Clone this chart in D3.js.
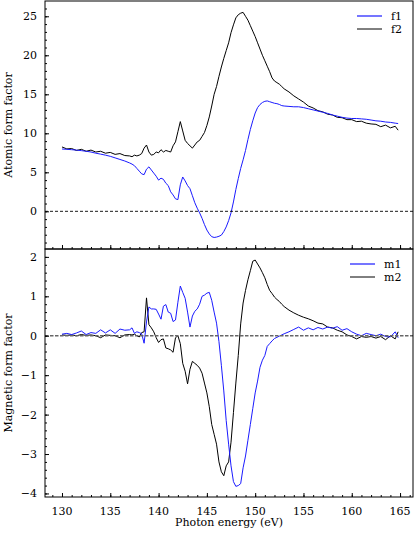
<!DOCTYPE html>
<html>
<head>
<meta charset="utf-8">
<script src="https://cdn.jsdelivr.net/npm/d3@7"></script>
<style>
body { margin: 0; background: #fff; }
svg { display: block; font-family: "DejaVu Serif", serif; }
.tick text { font-size: 11px; fill: #000; }
</style>
</head>
<body>
<div id="chart"></div>
<script>
// photon energy grid (eV)
var energy = [130, 130.5, 131, 131.5, 132, 132.5, 133, 133.5, 134, 134.5, 135, 135.5, 136, 136.5, 137,
  137.25, 137.5, 137.75, 138, 138.25, 138.5, 138.75, 139, 139.25, 139.5, 139.75, 140, 140.25, 140.5, 140.75,
  141, 141.25, 141.5, 141.75, 142, 142.25, 142.5, 142.75, 143, 143.25, 143.5, 143.75, 144, 144.25, 144.5, 144.75,
  145, 145.25, 145.5, 145.75, 146, 146.25, 146.5, 146.75, 147, 147.25, 147.5, 147.75, 148, 148.25, 148.5, 148.75,
  149, 149.25, 149.5, 149.75, 150, 150.25, 150.5, 150.75, 151, 151.25, 151.5, 151.75, 152, 152.25, 152.5, 152.75, 153,
  153.5, 154, 154.5, 155, 155.5, 156, 156.5, 157, 157.5, 158, 158.5, 159, 159.5, 160, 160.5, 161, 161.5, 162, 162.5,
  163, 163.5, 164, 164.5, 164.8];

var f1 = [7.99, 7.95, 7.9, 7.85, 7.78, 7.7, 7.6, 7.45, 7.33, 7.2, 7.05, 6.85, 6.65, 6.45, 6.2,
  6.05, 5.85, 5.5, 5.15, 4.8, 4.7, 5.4, 5.7, 5.3, 4.9, 4.5, 4.0, 4.25, 4.1, 3.6,
  3.3, 2.5, 2.1, 1.6, 1.5, 3.4, 4.4, 3.9, 3.3, 2.9, 2.0, 1.1, 0.4, -0.2, -0.9, -1.7,
  -2.4, -2.9, -3.25, -3.35, -3.3, -3.2, -3.05, -2.6, -2.0, -1.2, -0.2, 1.2, 2.8, 4.2, 5.5, 6.6,
  7.8, 9.2, 10.5, 11.6, 12.6, 13.3, 13.7, 13.95, 14.1, 14.15, 14.05, 13.95, 13.85, 13.8, 13.7, 13.55, 13.5,
  13.45, 13.4, 13.4, 13.3, 13.15, 13.0, 12.85, 12.7, 12.55, 12.35, 12.2, 12.05, 11.95, 11.9, 11.9, 11.85, 11.8, 11.7, 11.6,
  11.55, 11.45, 11.4, 11.3, 11.25];

var f2 = [8.25, 8.0, 8.05, 7.8, 7.95, 7.7, 7.85, 7.6, 7.7, 7.45, 7.55, 7.3, 7.4, 7.15, 7.1,
  7.0, 7.2, 7.1, 7.2, 7.4, 8.1, 8.5, 7.6, 7.2, 7.3, 7.6, 7.5, 7.9, 7.6, 7.8,
  7.7, 7.6, 8.4, 8.9, 10.2, 11.5, 10.3, 9.1, 8.7, 8.4, 8.1, 8.5, 8.9, 9.1, 9.6, 10.1,
  11.0, 12.1, 13.5, 15.0, 16.0, 17.3, 18.5, 19.6, 20.6, 21.6, 22.9, 23.9, 24.8, 25.2, 25.4, 25.5,
  25.0, 24.5, 23.8, 23.1, 22.4, 21.6, 20.8, 20.0, 19.3, 18.6, 17.9, 17.1, 16.7, 16.5, 16.3, 16.0, 15.7,
  15.3, 14.8, 14.4, 14.0, 13.5, 13.25, 12.9, 12.75, 12.45, 12.35, 12.05, 12.0, 11.75, 11.75, 11.5, 11.55, 11.3, 11.2, 11.15,
  10.85, 11.05, 10.7, 10.9, 10.4];

var m1 = [0.04, 0.06, 0.03, 0.07, 0.12, 0.03, 0.08, 0.06, 0.15, 0.07, 0.15, 0.06, 0.17, 0.14, 0.15,
  0.2, 0.06, 0.1, 0.08, 0.05, -0.19, 0.35, 0.73, 0.68, 0.68, 0.67, 0.55, 0.42, 0.75, 0.79,
  0.6, 0.57, 0.36, 0.4, 0.85, 1.26, 1.1, 0.95, 0.6, 0.22, 0.5, 0.62, 0.68, 0.8, 1.0, 1.03,
  1.08, 1.1, 0.9, 0.6, 0.32, -0.15, -0.75, -1.4, -2.15, -2.75, -3.3, -3.7, -3.82, -3.8, -3.75, -3.35,
  -3.05, -2.65, -2.25, -1.85, -1.45, -1.15, -0.8, -0.62, -0.5, -0.27, -0.2, -0.13, -0.07, -0.04, -0.01, 0.02, 0.05,
  0.1, 0.16, 0.22, 0.14, 0.2, 0.15, 0.21, 0.17, 0.22, 0.19, 0.23, 0.14, 0.18, 0.1, 0.04, 0.0, 0.06, 0.03, 0.0,
  0.04, -0.02, -0.03, 0.1, -0.05];

var m2 = [0.02, 0.01, 0.02, 0.0, 0.03, 0.01, 0.02, 0.0, -0.05, 0.02, 0.01, 0.0, -0.05, 0.02, 0.03,
  0.02, 0.04, 0.0, -0.03, 0.08, 0.1, 0.96, 0.28, 0.2, 0.1, -0.05, -0.17, -0.1, -0.08, -0.31,
  -0.33, -0.36, -0.42, -0.05, 0.0, -0.2, -0.7, -0.9, -1.22, -0.85, -0.65, -0.7, -0.75, -0.82, -0.95, -1.2,
  -1.45, -1.8, -2.25, -2.5, -2.75, -3.2, -3.45, -3.55, -3.3, -3.2, -2.7, -1.95, -1.2, -0.5, 0.3, 0.83,
  1.15, 1.42, 1.65, 1.89, 1.92, 1.82, 1.72, 1.6, 1.47, 1.3, 1.15, 1.07, 0.98, 0.92, 0.87, 0.8, 0.74,
  0.65, 0.58, 0.52, 0.47, 0.43, 0.38, 0.32, 0.3, 0.22, 0.2, 0.14, 0.1, 0.02, -0.02, -0.08, -0.02, -0.04, -0.02, -0.06,
  -0.02, -0.1, 0.0, -0.08, 0.1];

var xTicks = [130, 135, 140, 145, 150, 155, 160, 165];
var topTicks = [0, 5, 10, 15, 20, 25];
var botTicks = [-4, -3, -2, -1, 0, 1, 2];

var width = 415;
var height = 537;
var left = 45, right = 413;
var topY0 = 1, topY1 = 249;
var botY0 = 249, botY1 = 497;

var svg = d3.select("#chart").append("svg")
  .attr("width", width)
  .attr("height", height);

var x = d3.scaleLinear().domain([128.24, 166.34]).range([left, right]);
var yTop = d3.scaleLinear().domain([-4.83, 26.96]).range([topY1, topY0]);
var yBot = d3.scaleLinear().domain([-4.09, 2.2]).range([botY1, botY0]);

var fmt = d3.format("d");

function drawPanel(name, y, y0, y1, yMajor, yMinorStep, seriesA, seriesB, labels, zeroStyle, showXLabels) {
  var g = svg.append("g").attr("class", name);

  g.append("clipPath").attr("id", "clip-" + name)
    .append("rect")
    .attr("x", left).attr("y", y0)
    .attr("width", right - left).attr("height", y1 - y0);

  var plot = g.append("g").attr("clip-path", "url(#clip-" + name + ")");

  var line = d3.line()
    .x(function(d, i) { return x(energy[i]); })
    .y(function(d) { return y(d); });

  plot.append("path").datum(seriesB)
    .attr("d", line).attr("fill", "none")
    .attr("stroke", "#000").attr("stroke-width", 1);
  plot.append("path").datum(seriesA)
    .attr("d", line).attr("fill", "none")
    .attr("stroke", "#1a1aff").attr("stroke-width", 1);

  plot.append("line")
    .attr("x1", left).attr("x2", right)
    .attr("y1", y(0)).attr("y2", y(0))
    .attr("stroke", zeroStyle.color)
    .attr("stroke-width", zeroStyle.width)
    .attr("stroke-dasharray", zeroStyle.dash);

  // minor ticks
  var yDom = y.domain();
  var minorY = d3.range(Math.ceil(yDom[0] / yMinorStep) * yMinorStep, yDom[1], yMinorStep);
  var xMinor = d3.range(129, 167, 1);

  var yAxisMinor = d3.axisRight(y).tickValues(minorY).tickSize(2).tickFormat("");
  g.append("g").attr("transform", "translate(" + left + ",0)").call(yAxisMinor)
    .call(function(s) { s.select(".domain").remove(); });

  var xAxisMinor = d3.axisTop(x).tickValues(xMinor).tickSize(2).tickFormat("");
  g.append("g").attr("transform", "translate(0," + y1 + ")").call(xAxisMinor)
    .call(function(s) { s.select(".domain").remove(); });

  // major ticks inside
  var yAxis = d3.axisRight(y).tickValues(yMajor).tickSize(4).tickFormat("");
  g.append("g").attr("transform", "translate(" + left + ",0)").call(yAxis)
    .call(function(s) { s.select(".domain").remove(); });

  var xAxis = d3.axisTop(x).tickValues(xTicks).tickSize(4).tickFormat("");
  g.append("g").attr("transform", "translate(0," + y1 + ")").call(xAxis)
    .call(function(s) { s.select(".domain").remove(); });

  // tick labels
  g.selectAll(".ylab").data(yMajor).enter().append("text")
    .attr("class", "ylab")
    .attr("x", 37)
    .attr("y", function(d) { return y(d); })
    .attr("dy", "0.36em")
    .attr("text-anchor", "end")
    .attr("font-size", 11)
    .text(function(d) { return d < 0 ? "\u2212" + Math.abs(d) : fmt(d); });

  if (showXLabels) {
    g.selectAll(".xlab").data(xTicks).enter().append("text")
      .attr("class", "xlab")
      .attr("x", function(d) { return x(d); })
      .attr("y", y1 + 17.5)
      .attr("text-anchor", "middle")
      .attr("font-size", 11)
      .text(function(d) { return fmt(d); });
  }

  // frame
  g.append("rect")
    .attr("x", left).attr("y", y0)
    .attr("width", right - left).attr("height", y1 - y0)
    .attr("fill", "none").attr("stroke", "#000").attr("stroke-width", 1);

  // legend
  var lg = g.append("g").attr("class", "legend");
  var ly = y0 + 15;
  var lx0 = labels.x0;
  lg.append("line").attr("x1", lx0).attr("x2", lx0 + 25)
    .attr("y1", ly).attr("y2", ly)
    .attr("stroke", "#1a1aff").attr("stroke-width", 1.2);
  lg.append("line").attr("x1", lx0).attr("x2", lx0 + 25)
    .attr("y1", ly + 13).attr("y2", ly + 13)
    .attr("stroke", "#000").attr("stroke-width", 1);
  lg.append("text").attr("x", lx0 + 34).attr("y", ly + 4)
    .attr("font-size", 11).text(labels.a);
  lg.append("text").attr("x", lx0 + 34).attr("y", ly + 17)
    .attr("font-size", 11).text(labels.b);

  // y label
  g.append("text")
    .attr("transform", "translate(11.5," + ((y0 + y1) / 2) + ")rotate(-90)")
    .attr("text-anchor", "middle")
    .attr("font-size", 11)
    .text(labels.y);
}

drawPanel("top", yTop, topY0, topY1, topTicks, 1, f1, f2,
  { a: "f1", b: "f2", y: "Atomic form factor", x0: 357 },
  { color: "#000", width: 0.9, dash: "3,2" }, false);

drawPanel("bot", yBot, botY0, botY1, botTicks, 0.2, m1, m2,
  { a: "m1", b: "m2", y: "Magnetic form factor", x0: 350 },
  { color: "#666", width: 1.4, dash: "3.5,1.5" }, true);

svg.append("text")
  .attr("x", (left + right) / 2)
  .attr("y", 526)
  .attr("text-anchor", "middle")
  .attr("font-size", 11)
  .text("Photon energy (eV)");
</script>
</body>
</html>
